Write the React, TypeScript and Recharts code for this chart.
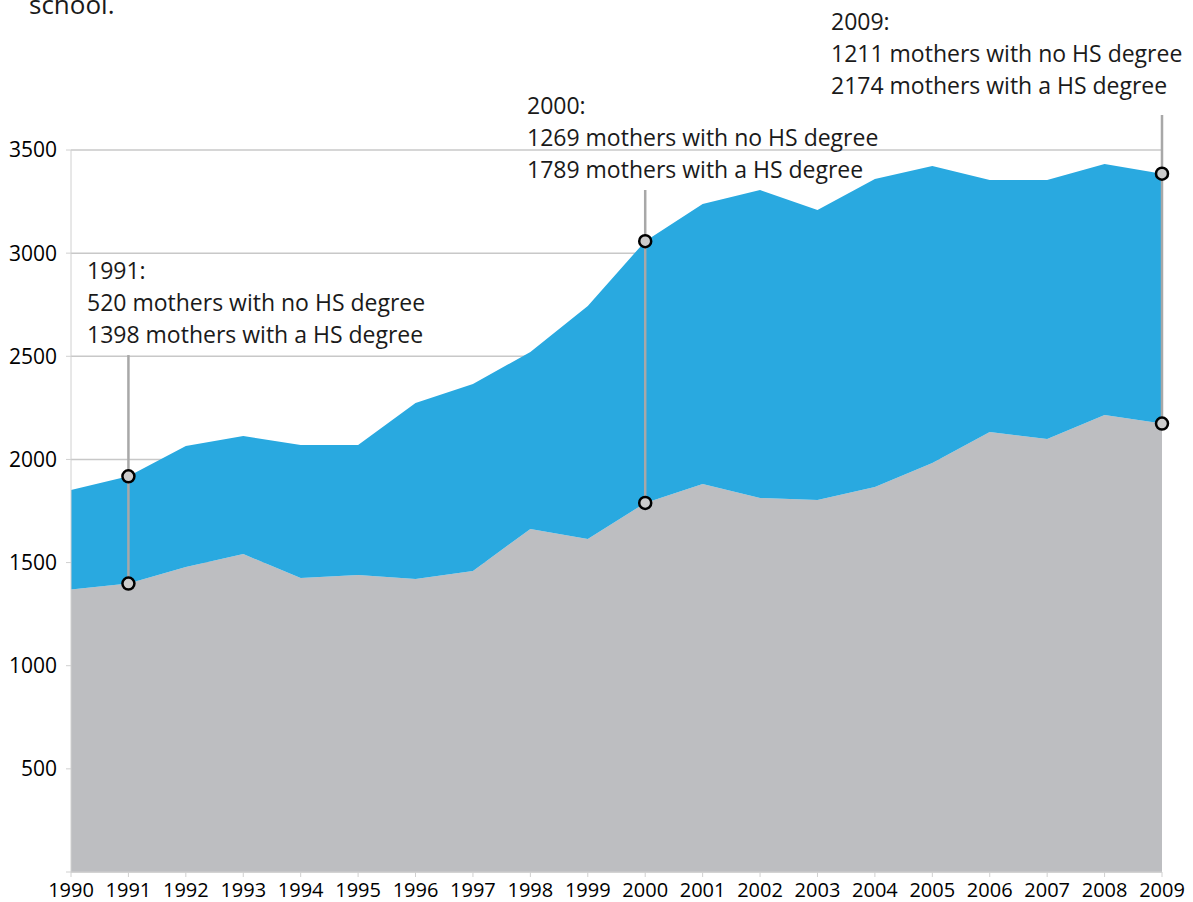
import { AreaChart, Area, XAxis, YAxis, CartesianGrid, ReferenceLine, ReferenceDot, Customized } from 'recharts';

// births by mother's education, 1990-2009
const years = [1990, 1991, 1992, 1993, 1994, 1995, 1996, 1997, 1998, 1999, 2000, 2001, 2002, 2003, 2004, 2005, 2006, 2007, 2008, 2009];
const hsDegree = [1370, 1398, 1478, 1541, 1425, 1440, 1420, 1459, 1663, 1614, 1789, 1881, 1813, 1803, 1866, 1983, 2133, 2099, 2215, 2174];
const noHsDegree = [482, 520, 587, 572, 645, 630, 853, 907, 858, 1130, 1269, 1357, 1493, 1406, 1493, 1439, 1221, 1255, 1217, 1211];
const yTicks = [0, 500, 1000, 1500, 2000, 2500, 3000, 3500];

// call-out years and how far up the leader line reaches
const calloutYears = [1991, 2000, 2009];
const calloutLineTops = [2506, 3306, 3670];

const FONT = '"Open Sans", sans-serif';
const GRAY = '#bdbec1';
const BLUE = '#29a9e0';

const data = years.map((year, i) => ({ year, hs: hsDegree[i], noHs: noHsDegree[i] }));

// text positions for the call-out blocks (pixels)
const calloutText = [
  { x: 87, y: 279 },
  { x: 527, y: 114 },
  { x: 831, y: 30 },
];

function Annotations() {
  return (
    <g fontFamily={FONT} fontSize={23} fill="#1a1a1a">
      <text x={29} y={14} fontSize={26}>school.</text>
      {calloutYears.map((yr, k) => {
        const i = years.indexOf(yr);
        const { x, y } = calloutText[k];
        return (
          <g key={yr}>
            <text x={x} y={y}>{`${yr}:`}</text>
            <text x={x} y={y + 32}>{`${noHsDegree[i]} mothers with no HS degree`}</text>
            <text x={x} y={y + 64}>{`${hsDegree[i]} mothers with a HS degree`}</text>
          </g>
        );
      })}
      <text x={455} y={437}>Mothers who have not completed high school</text>
      <text x={455} y={695}>Mothers with at least a high school education</text>
    </g>
  );
}

export default function App() {
  return (
    <div style={{ position: 'absolute', left: 0, top: 0, background: '#fff' }}>
      <AreaChart width={1193} height={902} data={data} margin={{ top: 150, right: 31, left: 0, bottom: 0 }}>
        <CartesianGrid vertical={false} stroke="#c8c8c8" strokeWidth={1.5} />
        <XAxis
          dataKey="year"
          type="number"
          domain={[1990, 2009]}
          ticks={years}
          interval={0}
          height={30}
          tickSize={5}
          tickMargin={6}
          stroke="#d0d0d0"
          tick={{ fill: '#000', fontSize: 20, fontFamily: FONT }}
        />
        <YAxis
          domain={[0, 3500]}
          ticks={yTicks}
          width={71}
          tickSize={5}
          tickMargin={9}
          stroke="#d0d0d0"
          tickFormatter={(v: number) => (v === 0 ? '' : String(v))}
          tick={{ fill: '#000', fontSize: 21, fontFamily: FONT }}
        />
        <Area type="linear" dataKey="hs" stackId="a" stroke="none" fill={GRAY} fillOpacity={1} isAnimationActive={false} />
        <Area type="linear" dataKey="noHs" stackId="a" stroke="none" fill={BLUE} fillOpacity={1} isAnimationActive={false} />

        {calloutYears.map((yr, k) => {
          const i = years.indexOf(yr);
          return (
            <ReferenceLine
              key={`l${yr}`}
              segment={[{ x: yr, y: hsDegree[i] }, { x: yr, y: calloutLineTops[k] }]}
              stroke="#a8a8a8"
              strokeWidth={2.5}
              ifOverflow="visible"
            />
          );
        })}
        {calloutYears.map((yr) => {
          const i = years.indexOf(yr);
          return [
            <ReferenceDot key={`b${yr}`} x={yr} y={hsDegree[i]} r={6} fill="#cccccc" stroke="#000" strokeWidth={2.5} ifOverflow="visible" />,
            <ReferenceDot key={`t${yr}`} x={yr} y={hsDegree[i] + noHsDegree[i]} r={6} fill="#cccccc" stroke="#000" strokeWidth={2.5} ifOverflow="visible" />,
          ];
        })}
        <Customized component={Annotations} />
      </AreaChart>
    </div>
  );
}
